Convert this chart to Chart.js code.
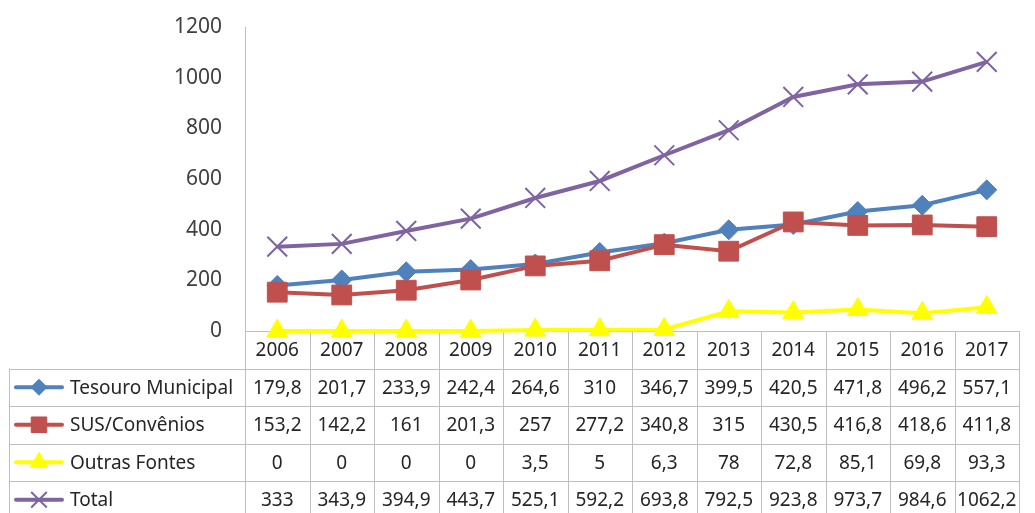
<!DOCTYPE html>
<html>
<head>
<meta charset="utf-8">
<script src="https://cdn.jsdelivr.net/npm/chart.js@4/dist/chart.umd.min.js"></script>
<style>
  html, body { margin: 0; padding: 0; background: #ffffff; }
  #wrap { width: 1035px; height: 513px; }
</style>
</head>
<body>
<div id="wrap"><canvas id="c" width="1035" height="513"></canvas></div>
<script>
// Anos e valores por fonte de recurso
const anos = ['2006','2007','2008','2009','2010','2011','2012','2013','2014','2015','2016','2017'];
const tesouroMunicipal = [179.8, 201.7, 233.9, 242.4, 264.6, 310, 346.7, 399.5, 420.5, 471.8, 496.2, 557.1];
const susConvenios     = [153.2, 142.2, 161, 201.3, 257, 277.2, 340.8, 315, 430.5, 416.8, 418.6, 411.8];
const outrasFontes     = [0, 0, 0, 0, 3.5, 5, 6.3, 78, 72.8, 85.1, 69.8, 93.3];
const total            = [333, 343.9, 394.9, 443.7, 525.1, 592.2, 693.8, 792.5, 923.8, 973.7, 984.6, 1062.2];
const yTicks = [0, 200, 400, 600, 800, 1000, 1200];

const series = [
  { label: 'Tesouro Municipal', data: tesouroMunicipal, color: '#4F81BD', style: 'rectRot', radius: 10, bw: 1, order: 4 },
  { label: 'SUS/Convênios',     data: susConvenios,     color: '#C0504D', style: 'rect',    radius: 14, bw: 1, order: 3 },
  { label: 'Outras Fontes',     data: outrasFontes,     color: '#FFFF00', style: 'triangle',radius: 12, bw: 1, order: 2 },
  { label: 'Total',             data: total,            color: '#8064A2', style: 'crossRot',radius: 14, bw: 2, order: 1 }
];

const fmt = v => String(v).replace('.', ',');

const TABLE_FONT = '19px "Noto Sans"';
const GRID = '#BFBFBF';
const TEXT = '#262626';
const ROW_H = 37.5;

function marker(ctx, style, x, y, r, color, bw) {
  ctx.save();
  ctx.fillStyle = color;
  ctx.strokeStyle = color;
  ctx.lineWidth = bw;
  ctx.beginPath();
  if (style === 'rectRot') {
    ctx.moveTo(x - r, y); ctx.lineTo(x, y - r); ctx.lineTo(x + r, y); ctx.lineTo(x, y + r); ctx.closePath();
    ctx.fill(); ctx.stroke();
  } else if (style === 'rect') {
    const s = r * Math.SQRT1_2;
    ctx.rect(x - s, y - s, 2 * s, 2 * s); ctx.fill(); ctx.stroke();
  } else if (style === 'triangle') {
    ctx.moveTo(x, y - r); ctx.lineTo(x + r * 0.866, y + r / 2); ctx.lineTo(x - r * 0.866, y + r / 2); ctx.closePath();
    ctx.fill(); ctx.stroke();
  } else if (style === 'crossRot') {
    const s = r * Math.SQRT1_2;
    ctx.moveTo(x - s, y - s); ctx.lineTo(x + s, y + s);
    ctx.moveTo(x + s, y - s); ctx.lineTo(x - s, y + s);
    ctx.stroke();
  }
  ctx.restore();
}

// Data table under the plot, aligned to the category scale
const dataTable = {
  id: 'dataTable',
  beforeDatasetsDraw(chart) {
    const { ctx, chartArea, scales } = chart;
    const x = scales.x;
    const left = chartArea.left, right = chartArea.right, top = chartArea.bottom;
    const colW = (right - left) / anos.length;
    const legendLeft = 9;
    const rows = series.length;
    const bottom = top + ROW_H * (rows + 1);

    ctx.save();
    ctx.strokeStyle = GRID;
    ctx.lineWidth = 1;

    // value axis line
    ctx.beginPath();
    ctx.moveTo(left + 0.5, chartArea.top);
    ctx.lineTo(left + 0.5, top);
    ctx.stroke();

    // horizontal lines
    ctx.beginPath();
    ctx.moveTo(left, Math.round(top) + 0.5);
    ctx.lineTo(right, Math.round(top) + 0.5);
    for (let i = 1; i <= rows + 1; i++) {
      const yy = Math.round(top + ROW_H * i) + 0.5;
      ctx.moveTo(legendLeft, yy);
      ctx.lineTo(right, yy);
    }
    // vertical lines
    for (let i = 0; i <= anos.length; i++) {
      const xx = Math.round(left + colW * i) + 0.5;
      ctx.moveTo(xx, top);
      ctx.lineTo(xx, bottom);
    }
    ctx.moveTo(legendLeft + 0.5, top + ROW_H);
    ctx.lineTo(legendLeft + 0.5, bottom);
    ctx.stroke();

    // text
    ctx.font = TABLE_FONT;
    ctx.fillStyle = TEXT;
    ctx.textBaseline = 'middle';
    ctx.textAlign = 'center';
    anos.forEach((a, i) => {
      ctx.fillText(a, x.getPixelForValue(i), top + ROW_H / 2 + 1);
    });
    series.forEach((s, r) => {
      const cy = top + ROW_H * (r + 1) + ROW_H / 2 + 1;
      ctx.textAlign = 'center';
      s.data.forEach((v, i) => {
        ctx.fillText(fmt(v), x.getPixelForValue(i), cy);
      });
      // legend key
      ctx.save();
      ctx.strokeStyle = s.color;
      ctx.lineWidth = 4;
      ctx.lineCap = 'round';
      ctx.beginPath();
      ctx.moveTo(16, cy - 1);
      ctx.lineTo(62, cy - 1);
      ctx.stroke();
      ctx.restore();
      const kr = s.style === 'rect' ? 11 : (s.style === 'crossRot' ? 11 : (s.style === 'triangle' ? 10 : 8));
      marker(ctx, s.style, 39, cy - 1, kr, s.color, s.bw);
      ctx.textAlign = 'left';
      ctx.fillStyle = TEXT;
      ctx.fillText(s.label, 70, cy);
    });
    ctx.restore();
  }
};

new Chart(document.getElementById('c'), {
  type: 'line',
  data: {
    labels: anos,
    datasets: series.map(s => ({
      label: s.label,
      data: s.data,
      order: s.order,
      borderColor: s.color,
      backgroundColor: s.color,
      pointBackgroundColor: s.color,
      pointBorderColor: s.color,
      pointBorderWidth: s.bw,
      pointStyle: s.style,
      pointRadius: s.radius,
      pointHoverRadius: s.radius,
      borderWidth: 4,
      tension: 0,
      clip: false,
      fill: false
    }))
  },
  options: {
    responsive: false,
    animation: false,
    events: [],
    layout: { padding: { top: 27, right: 0, bottom: 182, left: 0 } },
    plugins: { legend: { display: false }, tooltip: { enabled: false } },
    scales: {
      x: {
        type: 'category',
        offset: true,
        display: false
      },
      y: {
        min: 0,
        max: 1200,
        afterBuildTicks(scale) { scale.ticks = yTicks.map(v => ({ value: v })); },
        afterFit(scale) {
          scale.width = 245;
          scale.paddingTop = 0;
          scale.paddingBottom = 0;
        },
        grid: { display: false, drawTicks: false },
        border: { display: false },
        ticks: {
          padding: 23,
          color: '#404040',
          font: { family: 'Noto Sans', size: 21 },
          callback: v => String(v)
        }
      }
    }
  },
  plugins: [dataTable]
});
</script>
</body>
</html>
